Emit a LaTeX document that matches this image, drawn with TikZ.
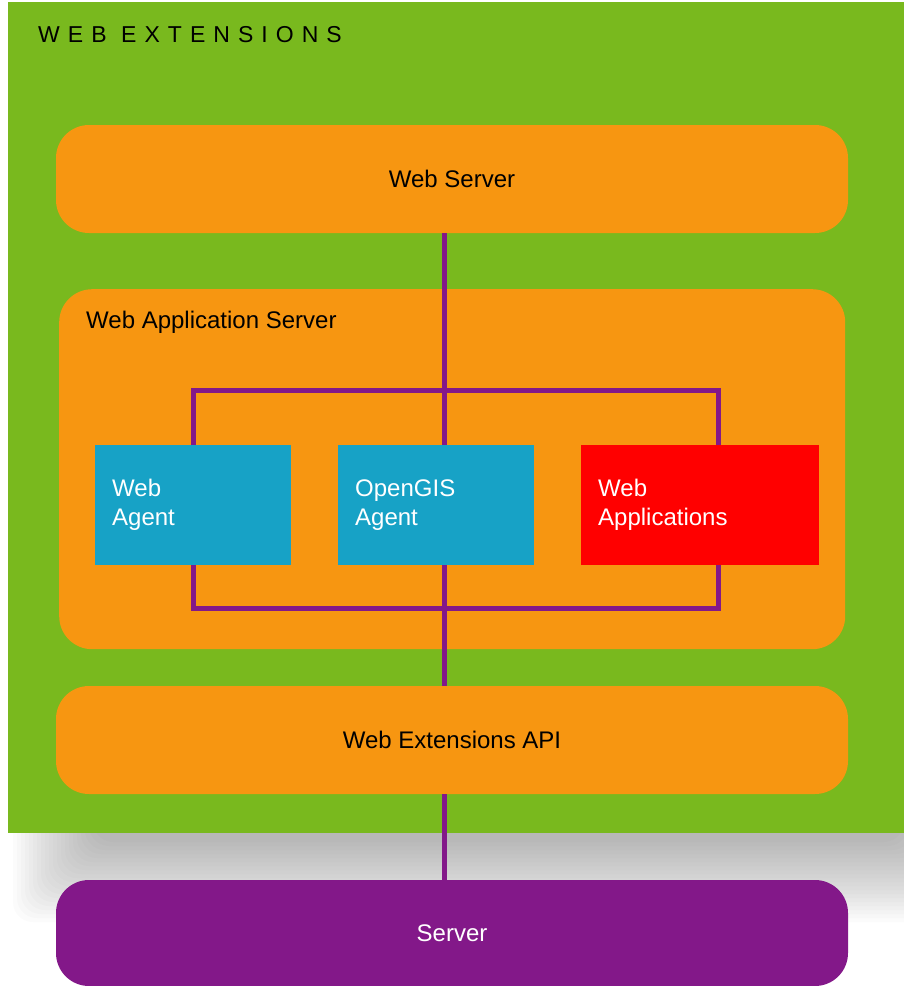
\documentclass[tikz,border=0pt]{standalone}
\usepackage{fontspec}
\setmainfont{Liberation Sans}
\newfontfamily\titlefont[LetterSpace=35]{Liberation Sans}
\usetikzlibrary{positioning}

\definecolor{extgreen}{HTML}{79B91E}
\definecolor{boxorange}{HTML}{F79611}
\definecolor{agentblue}{HTML}{17A2C6}
\definecolor{linkpurple}{HTML}{831889}

\begin{document}
\begin{tikzpicture}
[x=1pt, y=1pt,
 every node/.style={inner sep=0pt, font=\fontsize{24}{29}\selectfont},
 layerbox/.style={rounded corners=33pt, fill=boxorange, minimum width=792pt, minimum height=108pt},
 agentbox/.style={fill=agentblue, text=white, minimum height=120pt, minimum width=196pt, text width=162pt, align=left, anchor=north west},
 link/.style={line width=5pt, draw=linkpurple}]
\useasboundingbox (0,0) rectangle (904,-986);
% soft shadow under the green panel
\foreach \i in {0,...,20}
  \fill[black, opacity=0.017, rounded corners=20pt] (13+4*\i, -12-4*\i) rectangle (984-4*\i, -922+4*\i);
\node (extensions) [fill=extgreen, minimum width=896pt, minimum height=831pt, anchor=north west] at (8,-2) {};
\node (title) [anchor=base west, font=\titlefont\fontsize{23}{28}\selectfont] at (38,-42) {WEB EXTENSIONS};
% layers
\node (webserver) [layerbox] at (452,-179) {Web Server};
\node (appserver) [rounded corners=33pt, fill=boxorange, minimum width=786pt, minimum height=360pt, anchor=north west] at (59,-289) {};
\node (appserverlabel) [anchor=base west] at (86,-328) {Web Application Server};
\node (agent) [agentbox] at (95,-445) {Web\\Agent};
\node (opengis) [agentbox] at (338,-445) {OpenGIS\\Agent};
\node (webapps) [agentbox, fill=red, minimum width=238pt, text width=204pt] at (581,-445) {Web\\Applications};
\node (extapi) [layerbox] at (452,-740) {Web Extensions API};
\node (server) [layerbox, fill=linkpurple, text=white, minimum height=106pt] at (452,-933) {Server};
% connectors
\coordinate (toptap) at (444,-390);
\coordinate (bottap) at (444,-608);
\coordinate (leftdrop) at (193,-390);
\coordinate (rightdrop) at (718,-390);
\draw[link] (webserver.south -| toptap) -- (opengis.north -| toptap);
\draw[link] (agent.north -| leftdrop) |- (toptap) -| (webapps.north -| rightdrop);
\draw[link] (agent.south -| leftdrop) |- (bottap) -| (webapps.south -| rightdrop);
\draw[link] (opengis.south -| toptap) -- (extapi.north -| toptap);
\draw[link] (extapi.south -| toptap) -- (server.north -| toptap);
\end{tikzpicture}
\end{document}
